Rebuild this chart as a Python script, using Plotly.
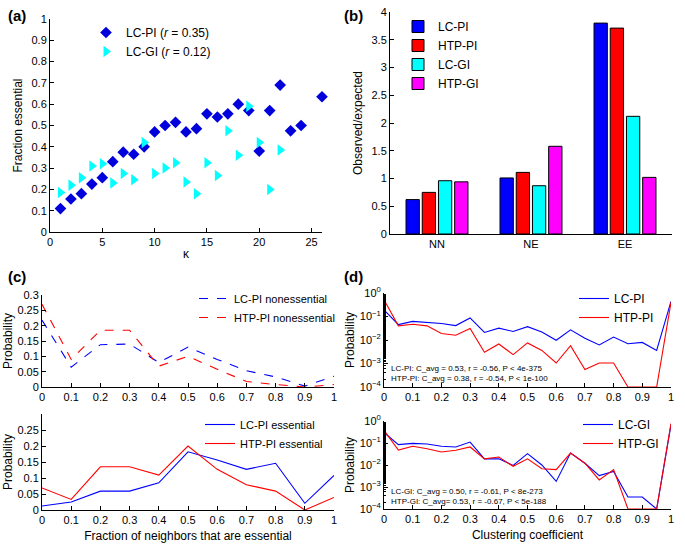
import plotly.graph_objects as go

# --- DATA ---
# (a) fraction essential vs kappa
kappa_pi = [1, 2, 3, 4, 5, 6, 7, 8, 9, 10, 11, 12, 13, 14, 15, 16, 17, 18, 19, 20, 21, 22, 23, 24, 26]
frac_pi = [0.11, 0.155, 0.18, 0.225, 0.255, 0.33, 0.375, 0.365, 0.40, 0.47, 0.50, 0.515, 0.47,
           0.485, 0.555, 0.54, 0.555, 0.60, 0.57, 0.38, 0.57, 0.69, 0.475, 0.50, 0.635]
kappa_gi = [1, 2, 3, 4, 5, 6, 7, 8, 9, 10, 11, 12, 13, 14, 15, 16, 17, 18, 19, 20, 21, 22]
frac_gi = [0.185, 0.22, 0.255, 0.31, 0.32, 0.23, 0.275, 0.245, 0.42, 0.275, 0.30, 0.325, 0.235,
           0.18, 0.325, 0.265, 0.475, 0.36, 0.59, 0.42, 0.20, 0.385]

# (b) observed/expected
pair_types = ['NN', 'NE', 'EE']
obs_lc_pi = [0.62, 1.01, 3.80]
obs_htp_pi = [0.75, 1.11, 3.71]
obs_lc_gi = [0.96, 0.87, 2.12]
obs_htp_gi = [0.94, 1.58, 1.02]

# (c) fraction of neighbours that are essential
frac_bins = [0, 0.1, 0.2, 0.3, 0.4, 0.5, 0.6, 0.7, 0.8, 0.9, 1.0]
lc_pi_noness = [0.218, 0.065, 0.138, 0.14, 0.08, 0.13, 0.09, 0.053, 0.033, 0.003, 0.035]
htp_pi_noness = [0.27, 0.09, 0.185, 0.185, 0.068, 0.10, 0.058, 0.018, 0.008, 0.0, 0.008]
lc_pi_ess = [0.0125, 0.025, 0.059, 0.059, 0.085, 0.182, 0.156, 0.127, 0.146, 0.021, 0.108]
htp_pi_ess = [0.069, 0.033, 0.135, 0.135, 0.109, 0.20, 0.127, 0.079, 0.059, 0.0, 0.039]

# (d) clustering coefficient distributions
cc_bins = [0, 0.05, 0.1, 0.15, 0.2, 0.25, 0.3, 0.35, 0.4, 0.45, 0.5,
           0.55, 0.6, 0.65, 0.7, 0.75, 0.8, 0.85, 0.9, 0.95, 1.0]
cc_lc_pi = [0.19, 0.045, 0.062, 0.056, 0.05, 0.041, 0.087, 0.021, 0.032, 0.023, 0.037,
            0.022, 0.0097, 0.027, 0.0118, 0.0062, 0.0134, 0.0069, 0.0079, 0.0036, 0.44]
cc_htp_pi = [0.52, 0.04, 0.047, 0.04, 0.019, 0.016, 0.031, 0.003, 0.0068, 0.0024, 0.0075,
             0.0036, 0.00105, 0.0057, 0.00055, 0.00105, 0.00105, 0.0001, 0.0001, 0.0001, 0.4]
cc_lc_gi = [0.3, 0.084, 0.096, 0.09, 0.071, 0.066, 0.11, 0.019, 0.019, 0.0096, 0.033,
            0.010, 0.0018, 0.035, 0.012, 0.0033, 0.0051, 0.00035, 0.00035, 0.0001, 0.68]
cc_htp_gi = [0.38, 0.048, 0.071, 0.055, 0.039, 0.047, 0.066, 0.019, 0.023, 0.0087, 0.019,
             0.0068, 0.0062, 0.035, 0.012, 0.0021, 0.0062, 0.0001, 0.0001, 0.0001, 0.76]

stats_pi = ['LC-PI: C_avg = 0.53, r = -0.56, P < 4e-375',
            'HTP-PI: C_avg = 0.38, r = -0.54, P < 1e-100']
stats_gi = ['LC-GI: C_avg = 0.50, r = -0.61, P < 8e-273',
            'HTP-GI: C_avg= 0.53, r = -0.67, P < 5e-188']

# --- LAYOUT HELPERS ---
W, H = 685, 556
FONT = 'Liberation Sans, Arial, sans-serif'


def xd(left, right):
    return [left / W, right / W]


def yd(top, bottom):
    return [1 - bottom / H, 1 - top / H]


def ax(**kw):
    base = dict(showline=True, linecolor='black', linewidth=1, ticks='inside', ticklen=4,
                tickcolor='black', showgrid=False, zeroline=False, mirror=False, automargin=False,
                tickfont=dict(size=11, color='black'), title_font=dict(size=12, color='black'))
    base.update(kw)
    return base


BLUE = '#0000ff'
RED = '#ff0000'

fig = go.Figure()

# (a)
fig.add_trace(go.Scatter(x=kappa_pi, y=frac_pi, mode='markers', name='LC-PI (<i>r</i> = 0.35)',
                         marker=dict(symbol='diamond', size=9, color='#0000dd'), cliponaxis=False,
                         xaxis='x', yaxis='y', legend='legend'))
fig.add_trace(go.Scatter(x=kappa_gi, y=frac_gi, mode='markers', name='LC-GI (<i>r</i> = 0.12)',
                         marker=dict(symbol='triangle-right', size=10, color='#00ffff'),
                         cliponaxis=False, xaxis='x', yaxis='y', legend='legend'))

# (b)
for name, vals, col in [('LC-PI', obs_lc_pi, '#0000ff'), ('HTP-PI', obs_htp_pi, '#ff0000'),
                        ('LC-GI', obs_lc_gi, '#00ffff'), ('HTP-GI', obs_htp_gi, '#ff00ff')]:
    fig.add_trace(go.Bar(x=pair_types, y=vals, name=name, marker_color=col,
                         marker_line=dict(color='black', width=1),
                         xaxis='x2', yaxis='y2', legend='legend2'))

# (c)
fig.add_trace(go.Scatter(x=frac_bins, y=lc_pi_noness, mode='lines', name='LC-PI nonessential',
                         line=dict(color=BLUE, width=1.1, dash='dash'),
                         xaxis='x3', yaxis='y3', legend='legend3'))
fig.add_trace(go.Scatter(x=frac_bins, y=htp_pi_noness, mode='lines', name='HTP-PI nonessential',
                         line=dict(color=RED, width=1.1, dash='dash'),
                         xaxis='x3', yaxis='y3', legend='legend3'))
fig.add_trace(go.Scatter(x=frac_bins, y=lc_pi_ess, mode='lines', name='LC-PI essential',
                         line=dict(color=BLUE, width=1.1),
                         xaxis='x4', yaxis='y4', legend='legend4'))
fig.add_trace(go.Scatter(x=frac_bins, y=htp_pi_ess, mode='lines', name='HTP-PI essential',
                         line=dict(color=RED, width=1.1),
                         xaxis='x4', yaxis='y4', legend='legend4'))

# (d)
fig.add_trace(go.Scatter(x=cc_bins, y=cc_lc_pi, mode='lines', name='LC-PI',
                         line=dict(color=BLUE, width=1.1),
                         xaxis='x5', yaxis='y5', legend='legend5'))
fig.add_trace(go.Scatter(x=cc_bins, y=cc_htp_pi, mode='lines', name='HTP-PI',
                         line=dict(color=RED, width=1.1),
                         xaxis='x5', yaxis='y5', legend='legend5'))
fig.add_trace(go.Scatter(x=cc_bins, y=cc_lc_gi, mode='lines', name='LC-GI',
                         line=dict(color=BLUE, width=1.1),
                         xaxis='x6', yaxis='y6', legend='legend6'))
fig.add_trace(go.Scatter(x=cc_bins, y=cc_htp_gi, mode='lines', name='HTP-GI',
                         line=dict(color=RED, width=1.1),
                         xaxis='x6', yaxis='y6', legend='legend6'))

tenths = [round(i * 0.1, 1) for i in range(11)]
tenth_txt = ['0'] + ['%.1f' % v for v in tenths[1:-1]] + ['1']
prob_vals = [0, 0.05, 0.1, 0.15, 0.2, 0.25, 0.3]
prob_txt = ['0', '0.05', '0.1', '0.15', '0.2', '0.25', '0.3']
log_vals = [1e-4, 1e-3, 1e-2, 1e-1, 1]
log_txt = ['10<sup>\u22124</sup>', '10<sup>\u22123</sup>', '10<sup>\u22122</sup>',
           '10<sup>\u22121</sup>', '10<sup>0</sup>']

log_kw = dict(type='log', range=[-4, 0], tickvals=log_vals, ticktext=log_txt,
              minor=dict(ticks='inside', ticklen=2, tickcolor='black', showgrid=False))

leg = dict(bgcolor='rgba(0,0,0,0)', xanchor='left', yanchor='top', tracegroupgap=0,
           itemwidth=30)

fig.update_layout(
    width=W, height=H, margin=dict(l=0, r=0, t=0, b=0, autoexpand=False),
    paper_bgcolor='white', plot_bgcolor='white',
    font=dict(family=FONT, color='black', size=11),
    barmode='group', bargap=0.31, bargroupgap=0.18,
    xaxis=ax(domain=xd(50, 322), anchor='y', range=[0, 26], tickvals=[0, 5, 10, 15, 20, 25],
             title=dict(text='\u03ba', standoff=2)),
    yaxis=ax(domain=yd(19, 232), anchor='x', range=[0, 1], tickvals=tenths, ticktext=tenth_txt,
             title=dict(text='Fraction essential', standoff=6)),
    xaxis2=ax(domain=xd(390, 672), anchor='y2', range=[-0.5, 2.5], ticks=''),
    yaxis2=ax(domain=yd(12, 234), anchor='x2', range=[0, 4],
              tickvals=[0, 0.5, 1, 1.5, 2, 2.5, 3, 3.5, 4],
              ticktext=['0', '0.5', '1', '1.5', '2', '2.5', '3', '3.5', '4'],
              title=dict(text='Observed/expected', standoff=6)),
    xaxis3=ax(domain=xd(42, 334), anchor='y3', range=[0, 1], tickvals=tenths, ticktext=tenth_txt),
    yaxis3=ax(domain=yd(295, 387), anchor='x3', range=[0, 0.3], tickvals=prob_vals,
              ticktext=prob_txt, title=dict(text='Probability', standoff=2)),
    xaxis4=ax(domain=xd(42, 334), anchor='y4', range=[0, 1], tickvals=tenths, ticktext=tenth_txt,
              title=dict(text='Fraction of neighbors that are essential', standoff=6)),
    yaxis4=ax(domain=yd(414, 510), anchor='x4', range=[0, 0.3], tickvals=prob_vals[:-1],
              ticktext=prob_txt[:-1], title=dict(text='Probability', standoff=2)),
    xaxis5=ax(domain=xd(384, 671), anchor='y5', range=[0, 1], tickvals=tenths, ticktext=tenth_txt),
    yaxis5=ax(domain=yd(293, 387), anchor='x5', title=dict(text='Probability', standoff=2), **log_kw),
    xaxis6=ax(domain=xd(384, 671), anchor='y6', range=[0, 1], tickvals=tenths, ticktext=tenth_txt,
              title=dict(text='Clustering coefficient', standoff=6)),
    yaxis6=ax(domain=yd(421, 509), anchor='x6', title=dict(text='Probability', standoff=2), **log_kw),
    legend=dict(leg, x=86 / W, y=1 - 18 / H, font=dict(size=12)),
    legend2=dict(leg, x=398 / W, y=1 - 12 / H, font=dict(size=12)),
    legend3=dict(leg, x=194 / W, y=1 - 284 / H, font=dict(size=11)),
    legend4=dict(leg, x=200 / W, y=1 - 410 / H, font=dict(size=11)),
    legend5=dict(leg, x=574 / W, y=1 - 284 / H, font=dict(size=12)),
    legend6=dict(leg, x=578 / W, y=1 - 410 / H, font=dict(size=12)),
)

# panel labels
for lbl, px, py in [('(a)', 6, 15), ('(b)', 342, 15), ('(c)', 6, 276), ('(d)', 342, 276)]:
    fig.add_annotation(text='<b>%s</b>' % lbl, x=px / W, y=1 - py / H, xref='paper', yref='paper',
                       xanchor='left', yanchor='middle', showarrow=False,
                       font=dict(size=15, color='black'))

# statistics text in (d)
for lines, top in [(stats_pi, 362), (stats_gi, 485)]:
    fig.add_annotation(text='<br>'.join(lines), x=389 / W, y=1 - top / H, xref='paper',
                       yref='paper', xanchor='left', yanchor='top', align='left',
                       showarrow=False, font=dict(size=8, color='black'))

# page body has a default 8px margin; drop it so the figure fills the window
fig.write_html('out.html', config={'displayModeBar': False},
               post_script="document.body.style.margin='0';")
